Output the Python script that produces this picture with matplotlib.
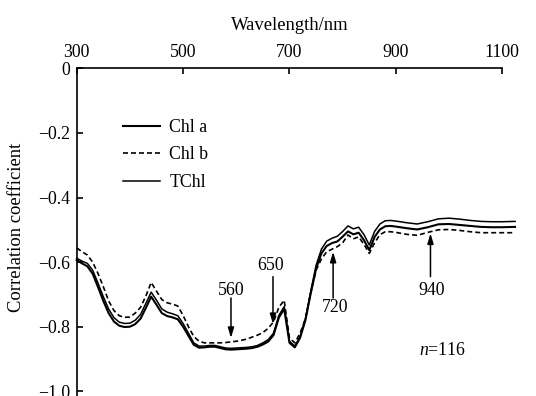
import matplotlib
matplotlib.use("Agg")
import matplotlib.pyplot as plt

plt.rcParams['font.family'] = ['Liberation Serif', 'DejaVu Serif']
plt.rcParams['mathtext.fontset'] = 'custom'
plt.rcParams['mathtext.rm'] = 'Liberation Serif'
plt.rcParams['mathtext.it'] = 'Liberation Serif:italic'

# ---- data ----
wavelength = [300, 310, 320, 330, 340, 350, 360, 370, 380, 390, 400, 410, 420, 430, 440,
              450, 460, 470, 480, 490, 500, 510, 520, 530, 540, 550, 560, 570, 580, 590,
              600, 610, 620, 630, 640, 650, 660, 670, 680, 690, 700, 710, 720, 730, 740,
              750, 760, 770, 780, 790, 800, 810, 820, 830, 840, 850, 860, 870, 880, 890,
              900, 920, 940, 960, 980, 1000, 1020, 1040, 1060, 1080, 1100, 1124]

chl_b = [-0.556, -0.568, -0.578, -0.600, -0.635, -0.676, -0.720, -0.750, -0.766, -0.771,
         -0.770, -0.758, -0.740, -0.705, -0.663, -0.690, -0.716, -0.726, -0.730, -0.736,
         -0.765, -0.800, -0.830, -0.845, -0.850, -0.850, -0.850, -0.850, -0.849, -0.847,
         -0.845, -0.842, -0.838, -0.832, -0.826, -0.818, -0.805, -0.785, -0.740, -0.718,
         -0.835, -0.850, -0.820, -0.775, -0.695, -0.625, -0.590, -0.568, -0.560, -0.552,
         -0.540, -0.516, -0.528, -0.522, -0.545, -0.573, -0.540, -0.515, -0.506, -0.506,
         -0.508, -0.514, -0.517, -0.508, -0.500, -0.499, -0.502, -0.506, -0.509, -0.509,
         -0.509, -0.509]

tchl = [-0.588, -0.597, -0.604, -0.625, -0.665, -0.707, -0.745, -0.772, -0.786, -0.790,
        -0.789, -0.780, -0.762, -0.728, -0.693, -0.718, -0.745, -0.755, -0.760, -0.766,
        -0.790, -0.820, -0.850, -0.860, -0.860, -0.858, -0.858, -0.862, -0.866, -0.867,
        -0.866, -0.865, -0.864, -0.862, -0.858, -0.850, -0.840, -0.820, -0.765, -0.738,
        -0.845, -0.860, -0.830, -0.775, -0.690, -0.610, -0.560, -0.535, -0.526, -0.520,
        -0.505, -0.488, -0.497, -0.492, -0.515, -0.547, -0.505, -0.482, -0.472, -0.471,
        -0.473, -0.478, -0.482, -0.475, -0.466, -0.464, -0.467, -0.471, -0.474, -0.475,
        -0.475, -0.474]

chl_a = [-0.594, -0.604, -0.613, -0.636, -0.677, -0.720, -0.758, -0.784, -0.797, -0.801,
         -0.800, -0.792, -0.775, -0.742, -0.707, -0.732, -0.758, -0.767, -0.771, -0.777,
         -0.800, -0.828, -0.856, -0.865, -0.864, -0.862, -0.862, -0.866, -0.870, -0.871,
         -0.870, -0.869, -0.868, -0.866, -0.862, -0.855, -0.846, -0.826, -0.772, -0.745,
         -0.850, -0.864, -0.834, -0.779, -0.696, -0.620, -0.573, -0.550, -0.541, -0.536,
         -0.521, -0.505, -0.514, -0.509, -0.532, -0.563, -0.522, -0.499, -0.489, -0.488,
         -0.490, -0.495, -0.499, -0.492, -0.483, -0.482, -0.485, -0.488, -0.491, -0.492,
         -0.492, -0.491]

series_labels = ['Chl a', 'Chl b', 'TChl']
x_ticks = [300, 500, 700, 900, 1100]
y_ticks = [0, -0.2, -0.4, -0.6, -0.8, -1.0]

# arrow annotations: label, x, tail y, tip y, label x, label y
arrow_labels = ['560', '650', '720', '940']
arrow_x = [590, 669, 782, 965]
arrow_tail = [-0.711, -0.645, -0.711, -0.645]
arrow_tip = [-0.835, -0.792, -0.568, -0.511]
label_x = [591, 664, 786, 967]
label_y = [-0.687, -0.609, -0.742, -0.687]

fig = plt.figure(figsize=(5.36, 3.96), dpi=100)
ax = fig.add_axes([0.1431, -0.0697, 0.7940, 0.8972])

ax.plot(wavelength, chl_a, color='black', lw=1.5, label=series_labels[0], clip_on=False)
ax.plot(wavelength, chl_b, color='black', lw=1.2, ls=(0, (3, 1.8)), label=series_labels[1], clip_on=False)
ax.plot(wavelength, tchl, color='black', lw=1.1, label=series_labels[2], clip_on=False)

ax.set_xlim(300, 1100)
ax.set_ylim(-1.1, 0)
ax.xaxis.tick_top()
ax.xaxis.set_label_position('top')
ax.set_xticks(x_ticks)
ax.set_yticks(y_ticks)
ax.set_yticklabels(['0', '\u22120.2', '\u22120.4', '\u22120.6', '\u22120.8', '\u22121.0'])
ax.tick_params(axis='both', direction='in', length=4, width=1.2, labelsize=12.8, color='black')
ax.tick_params(axis='x', pad=5)
ax.tick_params(axis='y', pad=5)
for s in ['right', 'bottom']:
    ax.spines[s].set_visible(False)
for s in ['top', 'left']:
    ax.spines[s].set_linewidth(1.2)

ax.set_xlabel('Wavelength/nm', fontsize=13.4, labelpad=10)
ax.set_ylabel('Correlation coefficient', fontsize=13.4)
ax.yaxis.set_label_coords(-0.122, 0.552)

leg = ax.legend(loc='upper left', bbox_to_anchor=(0.092, 0.878), frameon=False, fontsize=12.8,
                handlelength=2.1, handletextpad=0.5, labelspacing=0.6, borderaxespad=0)

for lab, x, yt, yp, lx, ly in zip(arrow_labels, arrow_x, arrow_tail, arrow_tip, label_x, label_y):
    ax.annotate('', xy=(x, yp), xytext=(x, yt),
                arrowprops=dict(arrowstyle='-|>,head_length=0.6,head_width=0.18',
                                color='black', lw=1.1, shrinkA=0, shrinkB=0))
    ax.text(lx, ly, lab, ha='center', va='center', fontsize=12.8)

ax.text(988, -0.874, '$n$=116', ha='center', va='center', fontsize=12.8)

fig.savefig('out.png', dpi=100)
